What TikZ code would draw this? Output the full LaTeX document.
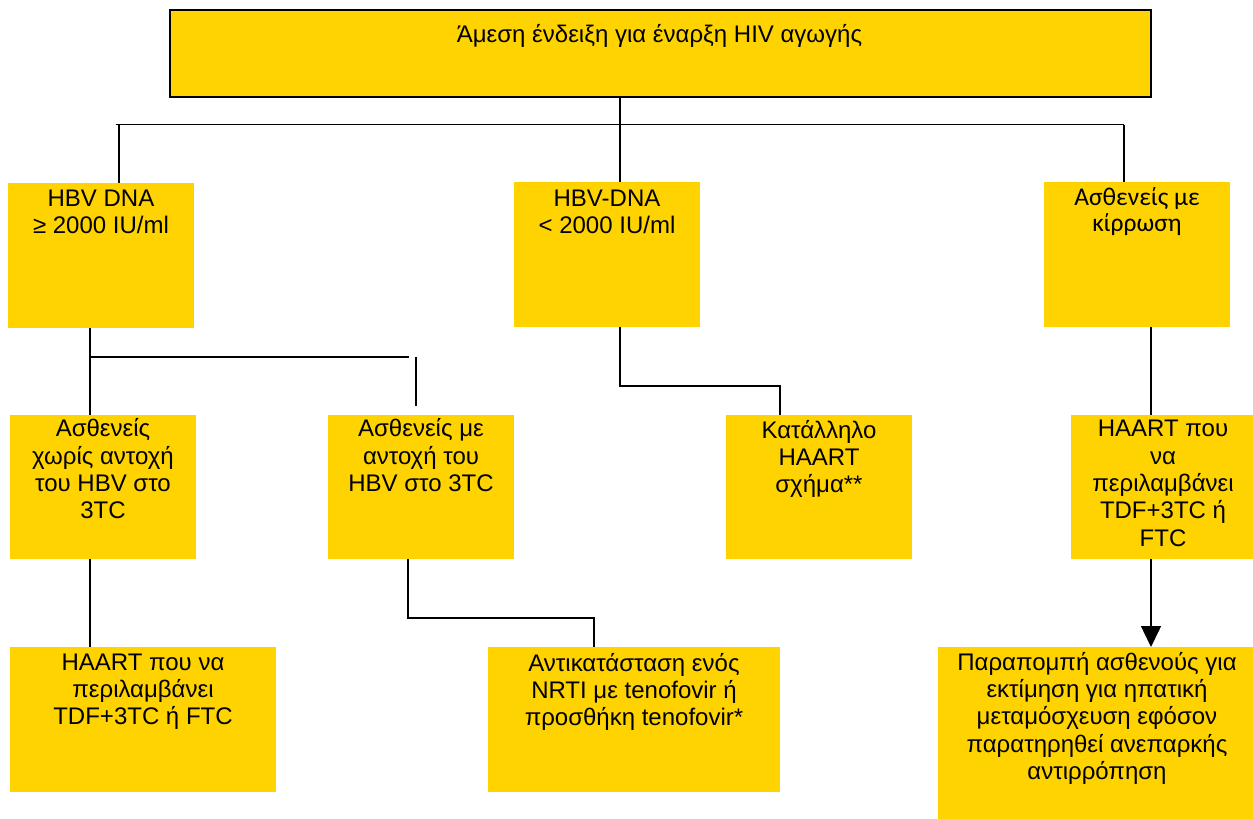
\documentclass[tikz,border=0pt]{standalone}
\usepackage{fontspec}
\setmainfont{Liberation Sans}
\newfontfamily\calibfont{Carlito}
\usetikzlibrary{arrows.meta}
\definecolor{hbvyellow}{RGB}{255,211,0}
\newcommand{\firstline}{\rule{0pt}{20pt}}
\begin{document}
\begin{tikzpicture}[x=1pt,y=-1pt,
  box/.style={rectangle, fill=hbvyellow, draw=none, inner sep=0pt, anchor=north west},
  headbox/.style={box, draw=black, line width=1.5pt},
  label/.style={align=center, inner sep=0pt, anchor=north,
    font=\fontsize{24}{27.3}\selectfont},
  link/.style={draw=black, line width=1.5pt},
  arrowlink/.style={link, -{Triangle[length=21pt,width=20pt]}}]
\useasboundingbox (0,0) rectangle (1253,819);

% boxes
\node[headbox, minimum width=981pt, minimum height=87pt] (top) at (169,9) {};
\node[box, minimum width=186pt, minimum height=144.5pt] (b1) at (8,183) {};
\node[box, minimum width=186pt, minimum height=145pt] (b2) at (514,182) {};
\node[box, minimum width=186pt, minimum height=145pt] (b3) at (1044,182) {};
\node[box, minimum width=186pt, minimum height=144pt] (b4) at (10,415) {};
\node[box, minimum width=186pt, minimum height=144pt] (b5) at (328,415) {};
\node[box, minimum width=186pt, minimum height=144pt] (b6) at (726,415) {};
\node[box, minimum width=182pt, minimum height=144pt] (b7) at (1071,415) {};
\node[box, minimum width=266pt, minimum height=145pt] (b9) at (10,647) {};
\node[box, minimum width=292pt, minimum height=145pt] (b10) at (488,647) {};
\node[box, minimum width=315pt, minimum height=172pt] (b8) at (938,647) {};

% texts
\node[label] (ttop) at (659.5,22.7) {\firstline Άμεση ένδειξη για έναρξη HIV αγωγής};
\node[label] (t1) at (101,186) {\firstline HBV DNA\\≥ 2000 IU/ml};
\node[label] (t2) at (607,186) {\firstline HBV-DNA\\< 2000 IU/ml};
\node[label, font=\calibfont\fontsize{25.5}{26.5}\selectfont] (t3) at (1137,185) {\firstline Ασθενείς με\\κίρρωση};
\node[label] (t4) at (103,416.7) {\firstline Ασθενείς\\χωρίς αντοχή\\του HBV στο\\3TC};
\node[label] (t5) at (421,416.7) {\firstline Ασθενείς με\\αντοχή του\\HBV στο 3TC};
\node[label] (t6) at (819,418) {\firstline Κατάλληλο\\HAART\\σχήμα**};
\node[label] (t7) at (1163,416.7) {\firstline HAART που\\να\\περιλαμβάνει\\TDF+3TC ή\\FTC};
\node[label] (t9) at (143,650) {\firstline HAART που να\\περιλαμβάνει\\TDF+3TC ή FTC};
\node[label] (t10) at (634,651) {\firstline Αντικατάσταση ενός\\NRTI με tenofovir ή\\προσθήκη tenofovir*};
\node[label] (t8) at (1097,650) {\firstline Παραπομπή ασθενούς για\\εκτίμηση για ηπατική\\μεταμόσχευση εφόσον\\παρατηρηθεί ανεπαρκής\\αντιρρόπηση};

% junction points of the connectors
\coordinate (jl) at (116,124.5);
\coordinate (jr) at (1124,124.5);
\coordinate (jc) at (620,124.5);
\coordinate (ja) at (119,124.5);
\coordinate (k1) at (90,357);
\coordinate (k2) at (409,357);
\coordinate (s1) at (416,357);
\coordinate (s2) at (416,406);
\coordinate (m1) at (620,386);
\coordinate (m2) at (780,386);
\coordinate (n1) at (1151,371);
\coordinate (p1) at (408,618);
\coordinate (p2) at (594,618);

% connectors
\draw[link] (jl) -- (jr);
\draw[link] (top.south -| jc) -- (b2.north -| jc);
\draw[link] (ja) -- (b1.north -| ja);
\draw[link] (jr) -- (b3.north -| jr);
\draw[link] (b1.south -| k1) -- (b4.north -| k1);
\draw[link] (k1) -- (k2);
\draw[link] (s1) -- (s2);
\draw[link] (b2.south -| m1) -- (m1) -- (m2) -- (b6.north -| m2);
\draw[link] (b3.south -| n1) -- (b7.north -| n1);
\draw[arrowlink] (b7.south -| n1) -- (b8.north -| n1);
\draw[link] (b4.south -| k1) -- (b9.north -| k1);
\draw[link] (b5.south -| p1) -- (p1) -- (p2) -- (b10.north -| p2);
\end{tikzpicture}
\end{document}
